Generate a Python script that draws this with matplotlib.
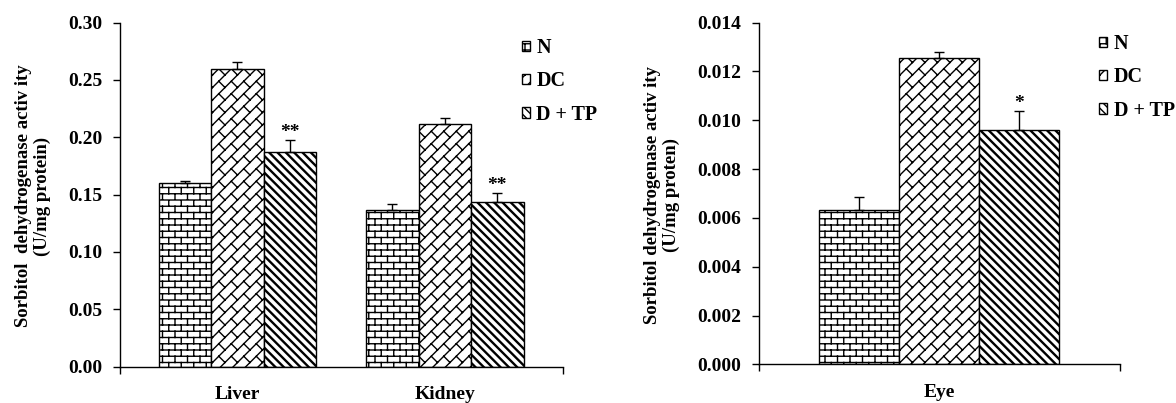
import warnings
import numpy as np
import matplotlib
matplotlib.use('Agg')
import matplotlib.pyplot as plt
import matplotlib.hatch as mhatch
from matplotlib.path import Path

warnings.filterwarnings('ignore')

# ---------------- data ----------------
groups = ['N', 'DC', 'D + TP']
organs_left = ['Liver', 'Kidney']
liver = [0.1598, 0.2594, 0.1868]
liver_err = [0.0020, 0.0064, 0.0107]
kidney = [0.1365, 0.2112, 0.1432]
kidney_err = [0.0052, 0.0052, 0.0084]
liver_sig = ['', '', '**']
kidney_sig = ['', '', '**']
left_yticks = [0.00, 0.05, 0.10, 0.15, 0.20, 0.25, 0.30]
left_ylabel = 'Sorbitol  dehydrogenase activ ity\n(U/mg protein)'

organs_right = ['Eye']
eye = [0.00632, 0.01257, 0.00960]
eye_err = [0.00055, 0.00022, 0.00078]
eye_sig = ['', '', '*']
right_yticks = [0.000, 0.002, 0.004, 0.006, 0.008, 0.010, 0.012, 0.014]
right_ylabel = 'Sorbitol dehydrogenase activ ity\n(U/mg proten)'


# ---------------- custom hatch patterns ----------------
class _SegHatch(mhatch.HatchPatternBase):
    def _store(self, segs):
        self.segs = segs
        self.num_vertices = 2 * len(segs)

    def set_vertices_and_codes(self, vertices, codes):
        for i, (x0, y0, x1, y1) in enumerate(self.segs):
            vertices[2 * i] = (x0, y0)
            vertices[2 * i + 1] = (x1, y1)
            codes[2 * i] = Path.MOVETO
            codes[2 * i + 1] = Path.LINETO


class BrickHatch(_SegHatch):
    def __init__(self, hatch, density):
        segs = []
        if 'b' in hatch:
            R, C = 16, 8
            for k in range(R + 1):
                segs.append((0.0, k / R, 1.0, k / R))
            for k in range(R):
                off = 0.5 * (k % 2)
                for j in range(-1, C + 1):
                    x = (j + off) / C
                    segs.append((x, k / R, x, (k + 1) / R))
        self._store(segs)


class DiagBrickHatch(_SegHatch):
    def __init__(self, hatch, density):
        segs = []
        if 'k' in hatch:
            n, m = 8, 4
            # long lines  y - x = v
            for i in range(-n, n + 1):
                v = i / n
                segs.append((-1.0, -1.0 + v, 2.0, 2.0 + v))
            # short connectors along u = x + y
            for i in range(-n, n):
                v0, v1 = i / n, (i + 1) / n
                off = 0.5 * (i % 2)
                for j in range(-2, 2 * m + 2):
                    u = (j + off) / m
                    segs.append(((u - v0) / 2, (u + v0) / 2,
                                 (u - v1) / 2, (u + v1) / 2))
        self._store(segs)


mhatch._hatch_types.extend([BrickHatch, DiagBrickHatch])

hatches = ['b', 'k', '\\\\\\\\']
hatch_lw = [1.0, 1.0, 1.7]

SERIF = ['Liberation Serif', 'DejaVu Serif']
plt.rcParams['font.family'] = SERIF
plt.rcParams['font.weight'] = 'bold'
plt.rcParams['hatch.linewidth'] = 1.0

fig = plt.figure(figsize=(11.76, 4.03), dpi=100)


def draw_panel(ax, cats, series, errs, sigs, width, xlim, yticks, fmt):
    x = np.arange(len(cats))
    for gi, g in enumerate(groups):
        vals = [s[gi] for s in series]
        ers = [e[gi] for e in errs]
        pos = x + (gi - 1) * width
        bars = ax.bar(pos, vals, width=width, color='white', edgecolor='black',
                      linewidth=1.0, hatch=hatches[gi], label=g, zorder=2)
        for b in bars:
            if hasattr(b, 'set_hatch_linewidth'):
                b.set_hatch_linewidth(hatch_lw[gi])
        ax.errorbar(pos, vals, yerr=[np.zeros(len(vals)), ers], fmt='none',
                    ecolor='black', elinewidth=1.0, capsize=3.8, capthick=1.0,
                    zorder=3)
        for ci in range(len(cats)):
            s = sigs[ci][gi]
            if s:
                ax.annotate(s, (pos[ci], vals[ci] + ers[ci]),
                            xytext=(0, -1), textcoords='offset points',
                            ha='center', va='bottom', fontsize=14,
                            fontweight='bold')
    ax.set_xlim(*xlim)
    ax.set_ylim(yticks[0], yticks[-1])
    ax.set_yticks(yticks)
    ax.set_yticklabels([fmt.format(t) for t in yticks])
    ax.set_xticks(x)
    ax.set_xticklabels(cats)
    ax.set_xticks(list(xlim), minor=True)
    ax.tick_params(axis='x', which='major', length=0, pad=14, labelsize=14)
    ax.tick_params(axis='x', which='minor', length=4.8, width=1.0,
                   direction='out')
    ax.tick_params(axis='y', length=4.8, width=1.0, direction='out',
                   pad=8, labelsize=14)
    for sp in ['top', 'right']:
        ax.spines[sp].set_visible(False)
    for sp in ['left', 'bottom']:
        ax.spines[sp].set_linewidth(1.0)
    for lab in ax.get_xticklabels() + ax.get_yticklabels():
        lab.set_fontweight('bold')


legend_kw = dict(loc='upper left', bbox_transform=fig.transFigure,
                 frameon=False, fontsize=14.5, handlelength=0.42,
                 handleheight=0.42, handletextpad=0.3, labelspacing=0.66,
                 borderpad=0, borderaxespad=0)

# left panel
axL = fig.add_axes([120 / 1176, 36.5 / 403, 443 / 1176, 344 / 403])
draw_panel(axL, organs_left, [liver, kidney], [liver_err, kidney_err],
           [liver_sig, kidney_sig], 0.253, (-0.566, 1.569),
           left_yticks, '{:.2f}')
fig.text(33 / 1176, 1 - 196 / 403, left_ylabel, rotation=90, ha='center',
         va='center', fontsize=13.5, fontweight='bold', linespacing=1.1,
         multialignment='center')
axL.legend(bbox_to_anchor=(522 / 1176, 1 - 38 / 403), **legend_kw)

# right panel
axR = fig.add_axes([759 / 1176, 38.7 / 403, 361 / 1176, 341.6 / 403])
draw_panel(axR, organs_right, [eye], [eye_err], [eye_sig], 0.25,
           (-0.5625, 0.5656), right_yticks, '{:.3f}')
fig.text(662 / 1176, 1 - 195 / 403, right_ylabel, rotation=90, ha='center',
         va='center', fontsize=13.5, fontweight='bold', linespacing=1.1,
         multialignment='center')
axR.legend(bbox_to_anchor=(1099 / 1176, 1 - 34 / 403), **legend_kw)

fig.savefig('out.png', dpi=100)
